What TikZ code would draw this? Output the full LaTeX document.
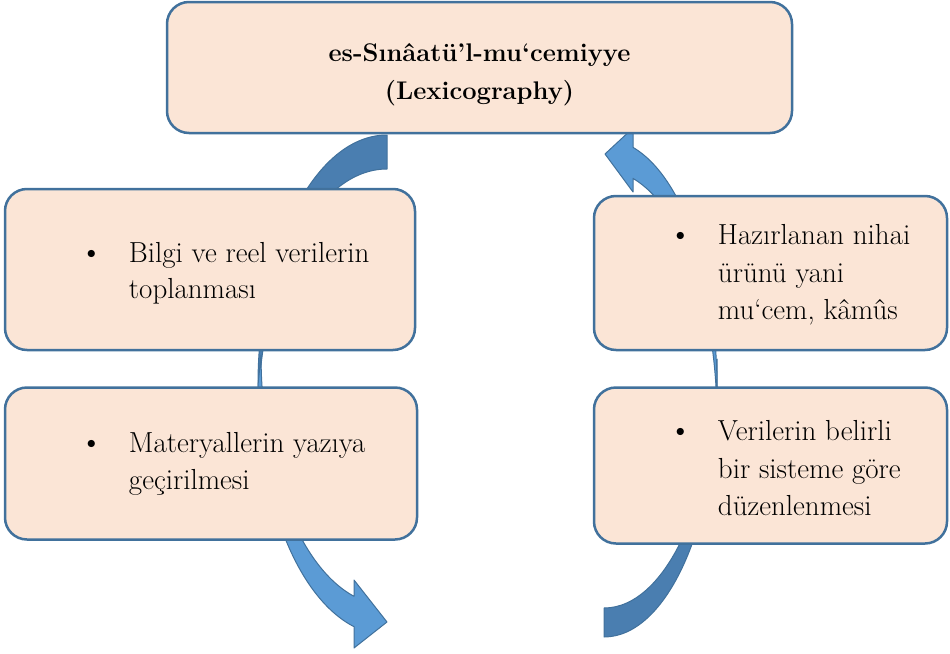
\documentclass[tikz,border=0pt]{standalone}
\usepackage{fontspec}
\usetikzlibrary{positioning}

\definecolor{boxfill}{HTML}{FBE5D6}
\definecolor{boxline}{HTML}{41719C}
\definecolor{arrowlight}{HTML}{5B9BD5}
\definecolor{arrowdark}{HTML}{4A7EB0}

% one bulleted entry, first line on the bullet's baseline
\newcommand{\listentry}[1]{%
  \begin{tabular}{@{}p{49pt}@{}l@{}}
    {\fontsize{32}{0}\selectfont\textbullet} & \begin{tabular}[t]{@{}l@{}}#1\end{tabular}
  \end{tabular}}

\begin{document}
\begin{tikzpicture}[
  x=1pt, y=-1pt,
  stagebox/.style={rectangle, rounded corners=22pt, draw=boxline, line width=2.5pt, fill=boxfill, inner sep=0pt},
  titletext/.style={align=center, inner sep=0pt, font=\fontsize{25.5}{38}\selectfont\bfseries},
  itemtext/.style={inner sep=0pt, font=\fontsize{29}{36.5}\selectfont},
  tallitem/.style={inner sep=0pt, font=\fontsize{29}{37.2}\selectfont},
  backarrow/.style={fill=arrowdark, draw=boxline, line width=1pt, line join=round},
  frontarrow/.style={fill=arrowlight, draw=boxline, line width=1pt, line join=round}
]
\useasboundingbox (0,0) rectangle (950,653);

%Arrows (behind the boxes)
\draw[backarrow] (387,135) arc[start angle=270, end angle=180, x radius=129, y radius=250]
  -- (258,419) arc[start angle=180, end angle=270, x radius=129, y radius=250] -- cycle;
\draw[frontarrow] (258,385) arc[start angle=180, end angle=104.8, x radius=129, y radius=250]
  -- (354,648) -- (387,622) -- (354,580)
  -- (354,596.3) arc[start angle=105.2, end angle=180, x radius=126, y radius=250] -- cycle;

\draw[backarrow] (604,637) arc[start angle=90, end angle=0, x radius=113, y radius=249]
  -- (717,359) arc[start angle=0, end angle=90, x radius=113, y radius=249] -- cycle;
\draw[frontarrow] (717,388) arc[start angle=0, end angle=-75.1, x radius=113, y radius=249]
  -- (633,128) -- (605,154) -- (633,192)
  -- (633,178.4) arc[start angle=-75.1, end angle=0, x radius=113, y radius=249] -- cycle;

%Boxes
\node[stagebox, minimum width=625pt, minimum height=131pt] (lex) at (479.5,67.5) {};
\node[stagebox, minimum width=410pt, minimum height=161pt] (collect) at (210,269.5) {};
\node[stagebox, minimum width=412pt, minimum height=152pt, below right=35pt and 0pt of collect.south west] (write) {};
\node[stagebox, minimum width=353pt, minimum height=154pt] (product) at (770.5,273) {};
\node[stagebox, minimum width=353pt, minimum height=156pt, below right=35pt and 0pt of product.south west] (arrange) {};

%Texts
\node[titletext, yshift=-7pt] (title) at (lex.center) {es-Sınâatü’l-mu‘cemiyye\\(Lexicography)};
\node[itemtext, below right=48.5pt and 76pt of collect.north west] (t1) {\listentry{Bilgi ve reel verilerin\\toplanması}};
\node[itemtext, below right=40.5pt and 76pt of write.north west] (t2) {\listentry{Materyallerin yazıya\\geçirilmesi}};
\node[tallitem, below right=24pt and 76pt of product.north west] (t3) {\listentry{Hazırlanan nihai\\ürünü yani\\mu‘cem, kâmûs}};
\node[tallitem, below right=28.5pt and 76pt of arrange.north west] (t4) {\listentry{Verilerin belirli\\bir sisteme göre\\düzenlenmesi}};

\end{tikzpicture}
\end{document}
